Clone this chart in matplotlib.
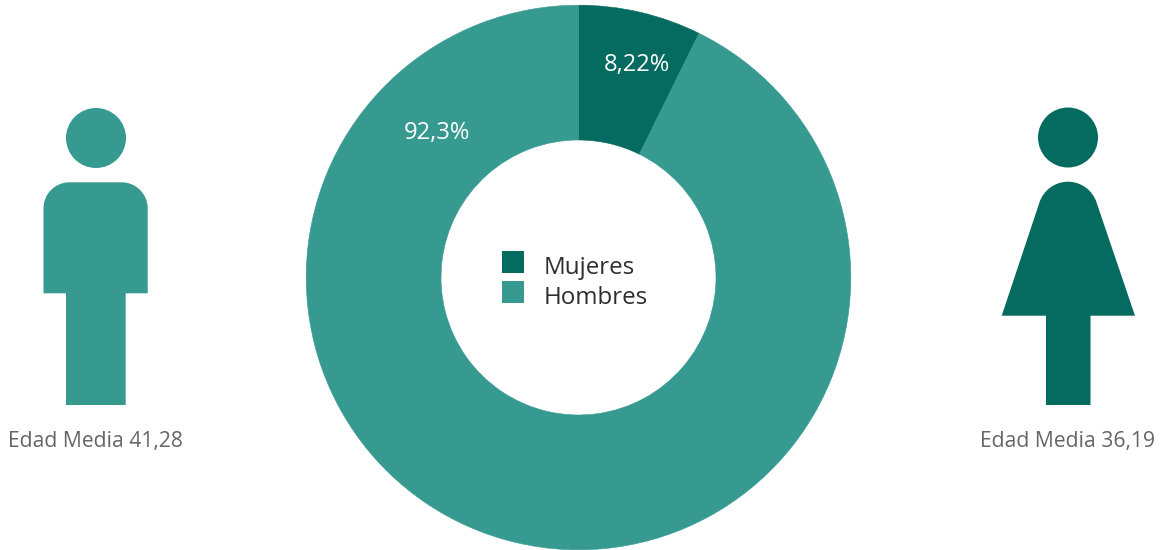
import matplotlib
matplotlib.use("Agg")
import matplotlib.pyplot as plt
from matplotlib.patches import Circle, PathPatch, Rectangle
from matplotlib.path import Path

categories = ["Mujeres", "Hombres"]
slice_shares = [7.3, 92.7]
slice_labels = ["8,22%", "92,3%"]
age_labels = ["Edad Media 36,19", "Edad Media 41,28"]
DARK = "#056A5F"
LIGHT = "#379A91"
W, H = 1161, 550

plt.rcParams["font.family"] = ["Open Sans", "DejaVu Sans"]
fig = plt.figure(figsize=(W / 100, H / 100), dpi=100)
ax = fig.add_axes([0, 0, 1, 1])


def fy(y):
    return H - y


wedges, _ = ax.pie(
    slice_shares,
    colors=[DARK, LIGHT],
    center=(578.5, fy(277.5)),
    radius=272.3,
    startangle=90,
    counterclock=False,
    wedgeprops=dict(width=134.8, linewidth=0.4),
    frame=True,
)
for w in wedges:
    w.set_edgecolor(w.get_facecolor())
ax.set_xlim(0, W)
ax.set_ylim(0, H)
ax.set_aspect("equal")
ax.axis("off")


def shape(verts, codes, color):
    ax.add_patch(PathPatch(Path([(x, fy(y)) for x, y in verts], codes),
                           facecolor=color, edgecolor="none", linewidth=0))


M, L, C4, Z = Path.MOVETO, Path.LINETO, Path.CURVE4, Path.CLOSEPOLY

# Man icon
ax.add_patch(Circle((96, fy(138)), 30, facecolor=LIGHT, edgecolor="none"))
shape(
    [(43.5, 293.3), (43.5, 208.3), (43.5, 194), (55, 182.3), (69.5, 182.3),
     (121.7, 182.3), (136, 182.3), (147.7, 194), (147.7, 208.3), (147.7, 293.3),
     (125.7, 293.3), (125.7, 405), (66, 405), (66, 293.3), (43.5, 293.3)],
    [M, L, C4, C4, C4, L, C4, C4, C4, L, L, L, L, L, Z],
    LIGHT,
)

# Woman icon
ax.add_patch(Circle((1068, fy(137.5)), 30, facecolor=DARK, edgecolor="none"))
shape(
    [(1001.7, 315.7), (1039.5, 202.3), (1043.5, 190.1), (1055.1, 181.7), (1068, 181.7),
     (1080.9, 181.7), (1092.5, 190.1), (1096.5, 202.3), (1135, 315.7), (1090.5, 315.7),
     (1090.5, 405), (1046, 405), (1046, 315.7), (1001.7, 315.7)],
    [M, L, C4, C4, C4, C4, C4, C4, L, L, L, L, L, Z],
    DARK,
)

# Slice labels
ax.text(636.5, fy(65), slice_labels[0], color="white", fontsize=17.1, ha="center", va="center")
ax.text(436.5, fy(133), slice_labels[1], color="white", fontsize=17.1, ha="center", va="center")

# Age captions
ax.text(1068, fy(442), age_labels[0], color="#666666", fontsize=15.2, ha="center", va="center")
ax.text(95.5, fy(442), age_labels[1], color="#666666", fontsize=15.2, ha="center", va="center")

# Legend in the hole of the ring
for i, (name, color) in enumerate(zip(categories, [DARK, LIGHT])):
    top = 251 + 30 * i
    ax.add_patch(Rectangle((502, fy(top + 22)), 22, 22, facecolor=color, edgecolor="none"))
    ax.text(544, fy(top + 16.5), name, color="#2e2e2e", fontsize=17.4, ha="left", va="center")

fig.savefig("out.png", dpi=100, facecolor="white")
